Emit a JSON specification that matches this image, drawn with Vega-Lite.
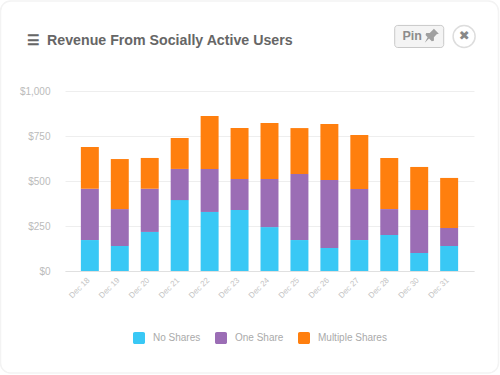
{
"$schema":"https://vega.github.io/schema/vega-lite/v6.json",
"width":409,"height":180,
"autosize":{"type":"none"},
"padding":{"left":65,"top":91,"right":26,"bottom":104},
"background":"#ffffff",
"view":{"stroke":null},
"title":{"text":"☰\u2002Revenue From Socially Active Users","anchor":"start","frame":"group","dx":-38,"offset":-50,"font":"Liberation Sans","fontSize":14.2,"fontWeight":"bold","color":"#666666"},
"data":{"values":[
{"date":"Dec 18","share":"No Shares","rank":1,"revenue":172},{"date":"Dec 18","share":"One Share","rank":2,"revenue":285},{"date":"Dec 18","share":"Multiple Shares","rank":3,"revenue":232},
{"date":"Dec 19","share":"No Shares","rank":1,"revenue":139},{"date":"Dec 19","share":"One Share","rank":2,"revenue":205},{"date":"Dec 19","share":"Multiple Shares","rank":3,"revenue":278},
{"date":"Dec 20","share":"No Shares","rank":1,"revenue":217},{"date":"Dec 20","share":"One Share","rank":2,"revenue":240},{"date":"Dec 20","share":"Multiple Shares","rank":3,"revenue":171},
{"date":"Dec 21","share":"No Shares","rank":1,"revenue":394},{"date":"Dec 21","share":"One Share","rank":2,"revenue":173},{"date":"Dec 21","share":"Multiple Shares","rank":3,"revenue":172},
{"date":"Dec 22","share":"No Shares","rank":1,"revenue":328},{"date":"Dec 22","share":"One Share","rank":2,"revenue":239},{"date":"Dec 22","share":"Multiple Shares","rank":3,"revenue":294},
{"date":"Dec 23","share":"No Shares","rank":1,"revenue":339},{"date":"Dec 23","share":"One Share","rank":2,"revenue":172},{"date":"Dec 23","share":"Multiple Shares","rank":3,"revenue":283},
{"date":"Dec 24","share":"No Shares","rank":1,"revenue":244},{"date":"Dec 24","share":"One Share","rank":2,"revenue":267},{"date":"Dec 24","share":"Multiple Shares","rank":3,"revenue":311},
{"date":"Dec 25","share":"No Shares","rank":1,"revenue":172},{"date":"Dec 25","share":"One Share","rank":2,"revenue":367},{"date":"Dec 25","share":"Multiple Shares","rank":3,"revenue":255},
{"date":"Dec 26","share":"No Shares","rank":1,"revenue":128},{"date":"Dec 26","share":"One Share","rank":2,"revenue":378},{"date":"Dec 26","share":"Multiple Shares","rank":3,"revenue":311},
{"date":"Dec 27","share":"No Shares","rank":1,"revenue":172},{"date":"Dec 27","share":"One Share","rank":2,"revenue":284},{"date":"Dec 27","share":"Multiple Shares","rank":3,"revenue":300},
{"date":"Dec 28","share":"No Shares","rank":1,"revenue":200},{"date":"Dec 28","share":"One Share","rank":2,"revenue":144},{"date":"Dec 28","share":"Multiple Shares","rank":3,"revenue":284},
{"date":"Dec 30","share":"No Shares","rank":1,"revenue":100},{"date":"Dec 30","share":"One Share","rank":2,"revenue":239},{"date":"Dec 30","share":"Multiple Shares","rank":3,"revenue":239},
{"date":"Dec 31","share":"No Shares","rank":1,"revenue":139},{"date":"Dec 31","share":"One Share","rank":2,"revenue":100},{"date":"Dec 31","share":"Multiple Shares","rank":3,"revenue":278}
]},
"layer":[
{"mark":{"type":"bar"},
"encoding":{
"x":{"field":"date","type":"ordinal","sort":null,"scale":{"paddingInner":0.4,"paddingOuter":0.53},
"axis":{"title":null,"labelAngle":-45,"labelFont":"Liberation Sans","labelFontSize":8,"labelColor":"#c4c4c4","ticks":false,"domainColor":"#e0e0e0","labelPadding":5,"labelOffset":-4,"grid":false}},
"y":{"field":"revenue","type":"quantitative","stack":"zero","scale":{"domain":[0,1000],"nice":false},
"axis":{"title":null,"values":[0,250,500,750,1000],"format":"$,.0f","labelFont":"Liberation Sans","labelFontSize":10,"labelColor":"#bbbbbb","ticks":false,"domain":false,"gridColor":"#eeeeee","labelPadding":15}},
"order":{"field":"rank","type":"ordinal"},
"color":{"field":"share","type":"nominal","scale":{"domain":["No Shares","One Share","Multiple Shares"],"range":["#39c8f5","#9b6db5","#ff7f0e"]},
"legend":{"title":null,"orient":"none","direction":"horizontal","legendX":67,"legendY":240,"symbolType":"M-0.7,-1H0.7A0.3,0.3 0 0 1 1,-0.7V0.7A0.3,0.3 0 0 1 0.7,1H-0.7A0.3,0.3 0 0 1 -1,0.7V-0.7A0.3,0.3 0 0 1 -0.7,-1Z","symbolSize":144,"symbolOpacity":1,"labelFont":"Liberation Sans","labelFontSize":10,"labelColor":"#aaaaaa","labelOffset":7,"columnPadding":13}}
}},
{"data":{"values":[{}]},"mark":{"type":"point","shape":"M-1.036,-0.72H0.876A0.04,0.04 0 0 1 0.916,-0.68V0.728A0.04,0.04 0 0 1 0.876,0.768H-1.036A0.04,0.04 0 0 1 -1.076,0.728V-0.68A0.04,0.04 0 0 1 -1.036,-0.72Z","size":250000,"filled":false,"stroke":"#f3f3f3","strokeWidth":1.5,"opacity":1},
"encoding":{"x":{"datum":"Dec 24"},"y":{"datum":500}}},
{"data":{"values":[{}]},"mark":{"type":"point","shape":"M-1,-0.33A0.12,0.12 0 0 1 -0.88,-0.45H0.88A0.12,0.12 0 0 1 1,-0.33V0.33A0.12,0.12 0 0 1 0.88,0.45H-0.88A0.12,0.12 0 0 1 -1,0.33Z","size":2401,"filled":true,"fill":"#f4f4f4","stroke":"#c8c8c8","strokeWidth":1,"opacity":1,"fillOpacity":1,"strokeOpacity":1},
"encoding":{"x":{"datum":"Dec 30"},"y":{"datum":1303}}},
{"data":{"values":[{}]},"mark":{"type":"text","text":"Pin","font":"Liberation Sans","fontWeight":"bold","fontSize":12.5,"fill":"#8c8c8c","dx":-7},
"encoding":{"x":{"datum":"Dec 30"},"y":{"datum":1303}}},
{"data":{"values":[{}]},"mark":{"type":"point","shape":"M2.1,-1.1L2.8,-0.4L2.5,-0.3L2.1,0.1L2.1,0.6L1.8,0.7L1.4,0.3L0.8,0.9L1.2,0.1L0.9,-0.2L1,-0.5L1.5,-0.5L1.9,-0.9Z","size":196,"filled":true,"fill":"#a0a0a0","strokeWidth":0,"opacity":1},
"encoding":{"x":{"datum":"Dec 30"},"y":{"datum":1303}}},
{"data":{"values":[{}]},"mark":{"type":"point","shape":"M2.36,0A1,1 0 1 1 0.36,0A1,1 0 1 1 2.36,0Z","size":484,"filled":true,"fill":"#ffffff","stroke":"#dddddd","strokeWidth":1.5,"opacity":1},
"encoding":{"x":{"datum":"Dec 31"},"y":{"datum":1303}}},
{"data":{"values":[{}]},"mark":{"type":"text","text":"✖","font":"DejaVu Sans","fontSize":13,"fill":"#888888","dx":15},
"encoding":{"x":{"datum":"Dec 31"},"y":{"datum":1303}}}
]
}
